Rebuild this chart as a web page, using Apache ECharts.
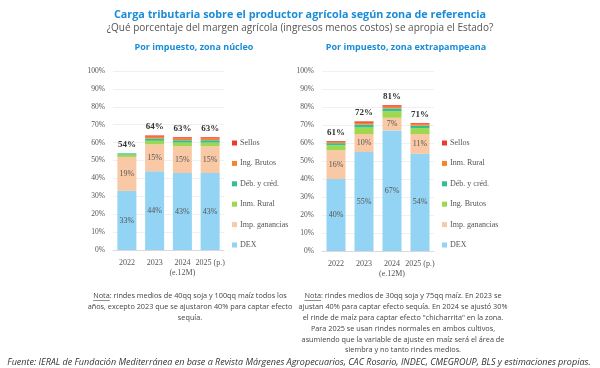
<!DOCTYPE html>
<html><head><meta charset="utf-8">
<script src="https://cdn.jsdelivr.net/npm/echarts@6/dist/echarts.min.js"></script>
<style>html,body{margin:0;padding:0;background:#fff}#c{width:600px;height:368px}</style>
</head><body><div id="c"></div>
<script>
// ---- data ----
const years = ['2022', '2023', '2024\n(e.12M)', '2025 (p.)'];
const yTicks = [0, 10, 20, 30, 40, 50, 60, 70, 80, 90, 100];

// Zona núcleo
const nucleoDEX      = [33, 44, 43, 43];
const nucleoGanancias= [19, 15, 15, 15];
const nucleoInmRural = [1.3, 2.0, 2.0, 2.0];
const nucleoDebCred  = [0.7, 1.3, 1.3, 1.3];
const nucleoIngBrutos= [0, 1.0, 1.0, 1.0];
const nucleoSellos   = [0, 0.7, 0.7, 0.7];
const nucleoTotal    = [54, 64, 63, 63];

// Zona extrapampeana (legend labels as in the source)
const extraDEX       = [40, 55, 67, 54];
const extraGanancias = [16, 10, 7, 11];
const extraIngBrutos = [2.7, 3.6, 3.6, 3.2];
const extraDebCred   = [1.2, 1.6, 1.6, 1.4];
const extraInmRural  = [0.6, 1.0, 1.0, 0.9];
const extraSellos    = [0.5, 0.8, 0.8, 0.5];
const extraTotal     = [61, 72, 81, 71];

const noteLeft = ['Nota: rindes medios de 40qq soja y 100qq maíz todos los', 'años, excepto 2023 que se ajustaron 40% para captar efecto', 'sequía.'];
const noteRight = ['Nota: rindes medios de 30qq soja y 75qq maíz. En 2023 se', 'ajustan 40% para captar efecto sequía. En 2024 se ajustó 30%', 'el rinde de maíz para captar efecto "chicharrita" en la zona.', 'Para 2025 se usan rindes normales en ambos cultivos,', 'asumiendo que la variable de ajuste en maíz será el área de', 'siembra y no tanto rindes medios.'];

const C = {blue:'#93d3f3', peach:'#f9c9a5', green:'#9fd84e', teal:'#33c08f', orange:'#f5852b', red:'#ee3b2b'};
const serif = 'Liberation Serif';
const sans = 'Open Sans';
const noteSize = 7.3;

function seg(name, data, color, gi, labelShow){
  return {name, type:'bar', stack:'s'+gi, xAxisIndex:gi, yAxisIndex:gi, data, barWidth:19,
    itemStyle:{color}, emphasis:{disabled:true},
    label:{show:!!labelShow, position:'inside', fontFamily:serif, fontSize:8, color:'#555',
      formatter:p=>p.value>=5?Math.round(p.value)+'%':''}};
}
function tot(data, gi){
  return {name:'tot'+gi, type:'bar', stack:'s'+gi, xAxisIndex:gi, yAxisIndex:gi, data:data.map(()=>0), barWidth:19,
    itemStyle:{color:'transparent'}, silent:true,
    label:{show:true, position:'top', distance:4, fontFamily:serif, fontWeight:'bold', fontSize:9, color:'#333',
      formatter:p=>data[p.dataIndex]+'%'}};
}
const xAx = gi => ({type:'category', gridIndex:gi, data:years,
  axisLine:{lineStyle:{color:'#d9d9d9'}}, axisTick:{show:false},
  axisLabel:{interval:0, fontFamily:serif, fontSize:8, color:'#555', lineHeight:10, margin:8}});
const yAx = gi => ({type:'value', gridIndex:gi, min:yTicks[0], max:yTicks[yTicks.length-1], interval:10,
  axisLine:{show:false}, axisTick:{show:false},
  splitLine:{lineStyle:{color:'#f0f0f0'}},
  axisLabel:{fontFamily:serif, fontSize:7.5, color:'#555', margin:8, formatter:'{value}%'}});
const legendCommon = {orient:'vertical', itemWidth:5, itemHeight:5, itemGap:12.4,
  icon:'rect', textStyle:{fontFamily:serif, fontSize:8, color:'#555', padding:[0,0,0,-2]}, selectedMode:false};

// measure text for the underline under "Nota"
const mctx = document.createElement('canvas').getContext('2d');
mctx.font = noteSize + 'px "' + sans + '"';
function underline(cx, firstLine, y){
  const w = mctx.measureText(firstLine).width;
  const x0 = cx - w/2;
  const wn = mctx.measureText('Nota').width;
  return {type:'line', shape:{x1:x0, y1:y, x2:x0+wn, y2:y}, style:{stroke:'#444', lineWidth:0.6}};
}

const chart = echarts.init(document.getElementById('c'), null, {renderer:'canvas'});
chart.setOption({
  animation:false,
  title:[
    {text:'Carga tributaria sobre el productor agrícola según zona de referencia', left:'center', top:4,
      textStyle:{fontFamily:sans, fontWeight:'bold', fontSize:10.8, color:'#1a8cd8'}},
    {text:'¿Qué porcentaje del margen agrícola (ingresos menos costos) se apropia el Estado?', left:'center', top:18,
      textStyle:{fontFamily:sans, fontWeight:'normal', fontSize:10, color:'#555'}},
    {text:'Por impuesto, zona núcleo', left:189, top:38, textAlign:'center',
      textStyle:{fontFamily:sans, fontWeight:'bold', fontSize:9, color:'#1a8cd8'}},
    {text:'Por impuesto, zona extrapampeana', left:401, top:38, textAlign:'center',
      textStyle:{fontFamily:sans, fontWeight:'bold', fontSize:9, color:'#1a8cd8'}}
  ],
  grid:[
    {left:113, top:71, width:111, height:179},
    {left:322, top:71, width:112, height:180}
  ],
  xAxis:[xAx(0), xAx(1)],
  yAxis:[yAx(0), yAx(1)],
  legend:[
    Object.assign({left:227, top:134, data:['Sellos','Ing. Brutos','Déb. y créd.','Inm. Rural','Imp. ganancias','DEX']}, legendCommon),
    Object.assign({left:437, top:134, data:['Sellos ','Inm. Rural ','Déb. y créd. ','Ing. Brutos ','Imp. ganancias ','DEX ']}, legendCommon)
  ],
  series:[
    seg('DEX', nucleoDEX, C.blue, 0, true),
    seg('Imp. ganancias', nucleoGanancias, C.peach, 0, true),
    seg('Inm. Rural', nucleoInmRural, C.green, 0),
    seg('Déb. y créd.', nucleoDebCred, C.teal, 0),
    seg('Ing. Brutos', nucleoIngBrutos, C.orange, 0),
    seg('Sellos', nucleoSellos, C.red, 0),
    tot(nucleoTotal, 0),
    seg('DEX ', extraDEX, C.blue, 1, true),
    seg('Imp. ganancias ', extraGanancias, C.peach, 1, true),
    seg('Ing. Brutos ', extraIngBrutos, C.green, 1),
    seg('Déb. y créd. ', extraDebCred, C.teal, 1),
    seg('Inm. Rural ', extraInmRural, C.orange, 1),
    seg('Sellos ', extraSellos, C.red, 1),
    tot(extraTotal, 1)
  ],
  graphic:[
    {type:'text', x:190, y:291, style:{text:noteLeft.join('\n'),
      fontFamily:sans, fontSize:noteSize, lineHeight:10.8, fill:'#444', align:'center'}},
    underline(190, noteLeft[0], 300.5),
    {type:'text', x:403, y:291, style:{text:noteRight.join('\n'),
      fontFamily:sans, fontSize:noteSize, lineHeight:10.8, fill:'#444', align:'center'}},
    underline(403, noteRight[0], 300.5),
    {type:'text', x:299, y:358, style:{text:'Fuente: IERAL de Fundación Mediterránea en base a Revista Márgenes Agropecuarios, CAC Rosario, INDEC, CMEGROUP, BLS y estimaciones propias.',
      fontFamily:sans, fontSize:9, fontStyle:'italic', fill:'#333', align:'center'}}
  ]
});
</script></body></html>
